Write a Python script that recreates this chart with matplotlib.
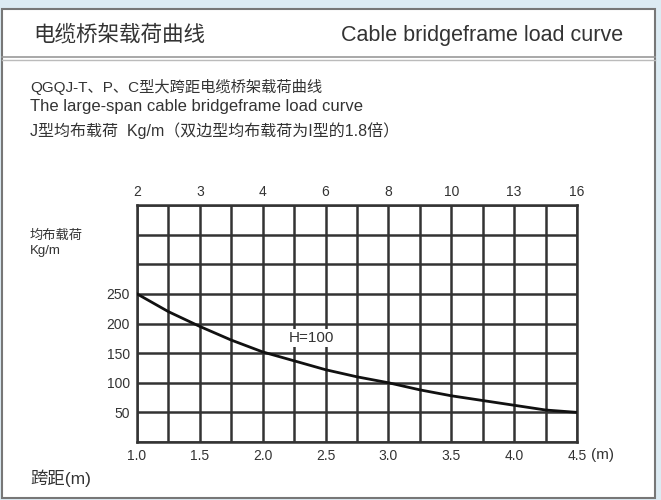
import matplotlib
matplotlib.use("Agg")
import matplotlib.pyplot as plt
from matplotlib.patches import Rectangle
from matplotlib.lines import Line2D

plt.rcParams['font.family'] = ['Liberation Sans', 'Noto Sans CJK SC', 'DejaVu Sans']

# Data
span_m = [1.0, 1.25, 1.5, 1.75, 2.0, 2.25, 2.5, 2.75, 3.0, 3.25, 3.5, 3.75, 4.0, 4.25, 4.5]
load_kg_m = [250, 220, 195, 172, 152, 137, 122, 110, 100, 88, 78, 70, 62, 54, 50]
bottom_ticks = [1.0, 1.5, 2.0, 2.5, 3.0, 3.5, 4.0, 4.5]
bottom_labels = ["1.0", "1.5", "2.0", "2.5", "3.0", "3.5", "4.0", "4.5"]
top_labels = ["2", "3", "4", "6", "8", "10", "13", "16"]
y_ticks = [50, 100, 150, 200, 250]
curve_label = "H=100"

W, H = 661, 500
fig = plt.figure(figsize=(W / 100, H / 100), dpi=100)
fig.patch.set_facecolor('#dcebf3')

def fx(x):
    return x / W

def fy(y):
    return 1 - y / H

tc = '#333333'

# Panel
fig.patches.append(Rectangle((fx(2), fy(498)), fx(655) - fx(2), fy(9) - fy(498),
                             transform=fig.transFigure, facecolor='white',
                             edgecolor='#777777', linewidth=1.5, zorder=-5))
fig.lines.append(Line2D([fx(2), fx(655)], [fy(57), fy(57)], transform=fig.transFigure,
                        color='#999999', linewidth=1.2, zorder=-4))
fig.lines.append(Line2D([fx(2), fx(655)], [fy(60), fy(60)], transform=fig.transFigure,
                        color='#bbbbbb', linewidth=1.0, zorder=-4))

# Header texts
fig.text(fx(33), fy(35), "电缆桥架载荷曲线", fontsize=15.5, color=tc, va='center', ha='left')
fig.text(fx(623), fy(35), "Cable bridgeframe load curve", fontsize=15.5, color=tc,
         va='center', ha='right')
fig.text(fx(30), fy(87), "QGQJ-T、P、C型大跨距电缆桥架载荷曲线", fontsize=11, color=tc,
         va='center', ha='left')
fig.text(fx(30), fy(106), "The large-span cable bridgeframe load curve", fontsize=12,
         color=tc, va='center', ha='left')
fig.text(fx(30), fy(131), "J型均布载荷  Kg/m（双边型均布载荷为I型的1.8倍）", fontsize=11.5,
         color=tc, va='center', ha='left')

# Axes
left, right, top, bottom = 137, 577, 205, 442
ax = fig.add_axes([fx(left), fy(bottom), fx(right) - fx(left), fy(top) - fy(bottom)])
ax.set_zorder(2)
ax.set_xlim(1.0, 4.5)
ax.set_ylim(0, 400)
ax.set_facecolor('white')

for i in range(15):
    ax.axvline(1.0 + 0.25 * i, color='#333333', linewidth=1.8, zorder=1)
for j in range(9):
    ax.axhline(50 * j, color='#333333', linewidth=1.8, zorder=1)
for s in ax.spines.values():
    s.set_color('#333333')
    s.set_linewidth(1.8)

ax.plot(span_m, load_kg_m, color='#111111', linewidth=2.0, zorder=3)
ax.text(2.385, 176, curve_label, fontsize=11, color=tc, ha='center', va='center', zorder=4,
        bbox=dict(facecolor='white', edgecolor='none', pad=1.5))

ax.set_xticks(bottom_ticks)
ax.set_xticklabels(bottom_labels, fontsize=10, color=tc)
ax.set_yticks(y_ticks)
ax.set_yticklabels([str(v) for v in y_ticks], fontsize=10, color=tc)
ax.tick_params(length=0, pad=5)

ax2 = ax.twiny()
ax2.set_xlim(ax.get_xlim())
ax2.set_xticks(bottom_ticks)
ax2.set_xticklabels(top_labels, fontsize=10, color=tc)
ax2.tick_params(length=0, pad=4)
for s in ax2.spines.values():
    s.set_visible(False)

# Axis annotations
fig.text(fx(30), fy(236), "均布载荷", fontsize=9.5, color=tc, va='center', ha='left')
fig.text(fx(30), fy(251), "Kg/m", fontsize=9.5, color=tc, va='center', ha='left')
fig.text(fx(591), fy(455), "(m)", fontsize=11, color=tc, va='center', ha='left')
fig.text(fx(30), fy(478), "跨距(m)", fontsize=12.5, color=tc, va='center', ha='left')

fig.savefig("out.png", dpi=100, facecolor=fig.get_facecolor())
